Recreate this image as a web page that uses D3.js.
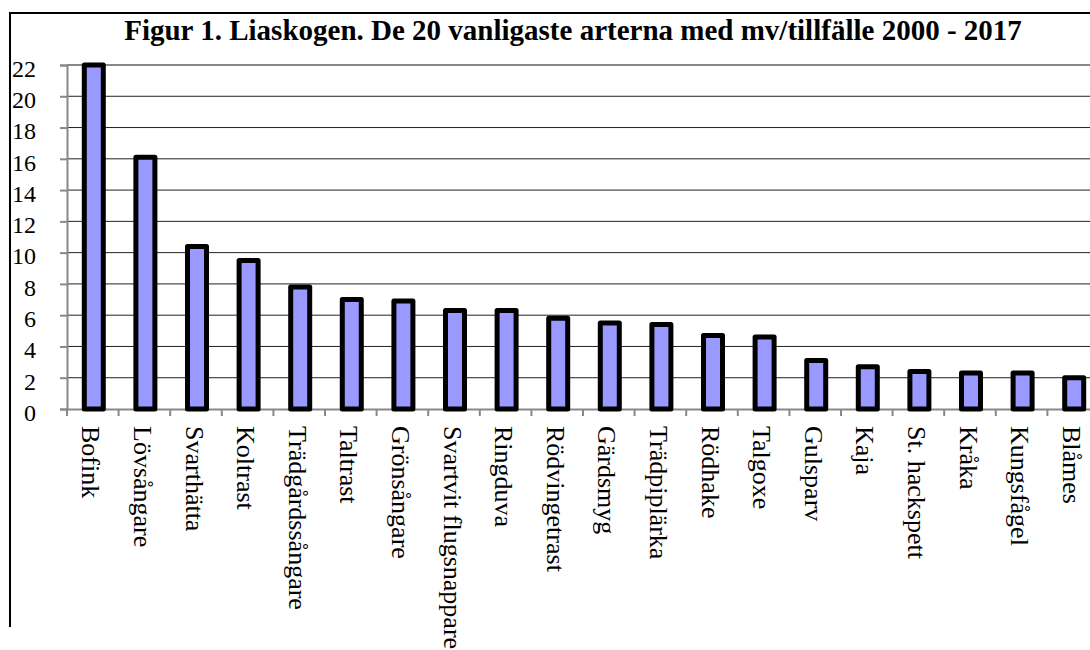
<!DOCTYPE html>
<html>
<head>
<meta charset="utf-8">
<script src="https://cdn.jsdelivr.net/npm/d3@7"></script>
<style>
  html, body { margin: 0; padding: 0; background: #fff; }
  svg { display: block; }
</style>
</head>
<body>
<svg id="chart" width="1090" height="650"></svg>
<script>
const categories = ["Bofink","Lövsångare","Svarthätta","Koltrast","Trädgårdssångare","Taltrast","Grönsångare","Svartvit flugsnappare","Ringduva","Rödvingetrast","Gärdsmyg","Trädpiplärka","Rödhake","Talgoxe","Gulsparv","Kaja","St. hackspett","Kråka","Kungsfågel","Blåmes"];
const values = [22,16.1,10.4,9.5,7.8,7.0,6.9,6.3,6.3,5.8,5.5,5.4,4.7,4.6,3.1,2.7,2.4,2.3,2.3,2.0];
const yTicks = [0,2,4,6,8,10,12,14,16,18,20,22];
const title = "Figur 1. Liaskogen. De 20 vanligaste arterna med mv/tillfälle 2000 - 2017";

const FONT = "'Liberation Serif', 'Times New Roman', serif";
const svg = d3.select("#chart");
const plotLeft = 67, plotTop = 65, plotBottom = 409, plotRight = 1099;

// frame
svg.append("line").attr("x1",10).attr("x2",1090).attr("y1",13).attr("y2",13)
  .attr("stroke","#000").attr("stroke-width",2);
svg.append("line").attr("x1",10).attr("x2",10).attr("y1",12).attr("y2",627)
  .attr("stroke","#000").attr("stroke-width",2);

// title
svg.append("text").attr("x",573).attr("y",40).attr("text-anchor","middle")
  .style("font-family", FONT).style("font-size","29px").style("font-weight","bold")
  .style("fill","#000").text(title);

const x = d3.scaleBand().domain(categories).range([plotLeft, plotRight]).paddingInner(0).paddingOuter(0);
const y = d3.scaleLinear().domain([0,22]).range([plotBottom, plotTop]);

// gridlines
svg.append("g").selectAll("line").data(yTicks.filter(d => d > 0)).join("line")
  .attr("x1", plotLeft).attr("x2", plotRight)
  .attr("y1", d => y(d)).attr("y2", d => y(d))
  .attr("stroke", d => d === 22 ? "#888" : "#222").attr("stroke-width", d => d === 22 ? 2 : 1);

// y axis
const yAxis = svg.append("g").attr("transform", `translate(${plotLeft},0)`)
  .call(d3.axisLeft(y).tickValues(yTicks).tickSize(7).tickPadding(0).tickFormat(d3.format("d")));
yAxis.select(".domain").attr("stroke","#888").attr("stroke-width",2);
yAxis.selectAll(".tick line").attr("stroke","#888").attr("stroke-width",2);
yAxis.selectAll(".tick text")
  .style("font-family", FONT).style("font-size","24px").style("fill","#000")
  .attr("x", 36 - plotLeft).attr("text-anchor","end").attr("dy","0.47em");

// x axis
const xAxis = svg.append("g").attr("transform", `translate(0,${plotBottom})`)
  .call(d3.axisBottom(x).tickSize(0).tickFormat(""));
xAxis.select(".domain").attr("stroke","#888").attr("stroke-width",2);
xAxis.selectAll(".tick").remove();
svg.append("g").selectAll("line").data(d3.range(categories.length + 1)).join("line")
  .attr("x1", i => plotLeft + i * x.step()).attr("x2", i => plotLeft + i * x.step())
  .attr("y1", plotBottom).attr("y2", plotBottom + 7)
  .attr("stroke","#888").attr("stroke-width",2);

// bars
const barW = 19;
svg.append("g").selectAll("rect").data(categories).join("rect")
  .attr("x", (d) => x(d) + x.bandwidth()/2 - barW/2 + 1)
  .attr("y", (d,i) => y(values[i]))
  .attr("width", barW)
  .attr("height", (d,i) => plotBottom - y(values[i]))
  .attr("fill","#9999FF").attr("stroke","#000").attr("stroke-width",5)
  .attr("stroke-linejoin","round");

// x labels
svg.append("g").selectAll("text").data(categories).join("text")
  .attr("transform", d => `translate(${x(d) + x.bandwidth()/2},426) rotate(90)`)
  .attr("dy","0.4em")
  .style("font-family", FONT).style("font-size","26px").style("fill","#000")
  .text(d => d);
</script>
</body>
</html>
